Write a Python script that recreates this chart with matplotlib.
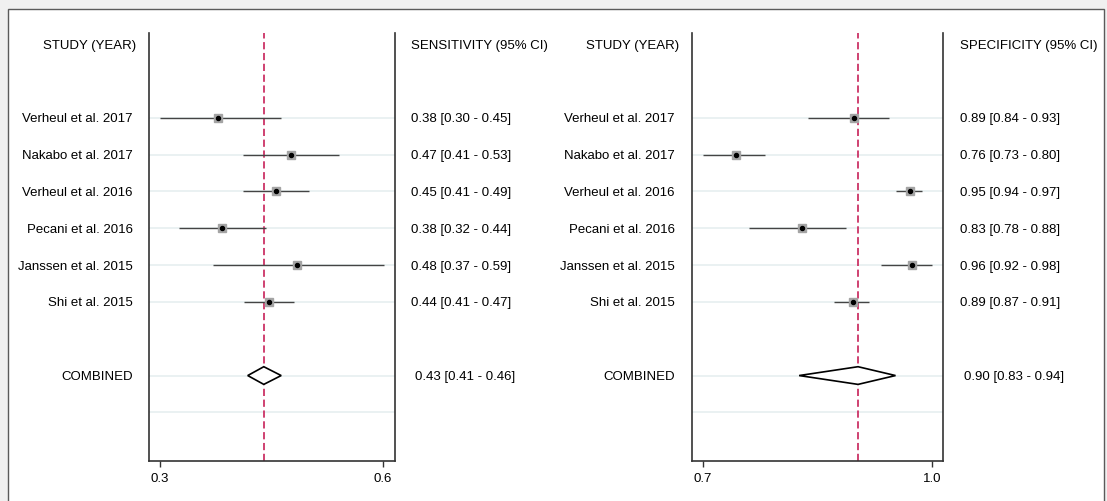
import matplotlib
matplotlib.use("Agg")
import matplotlib.pyplot as plt
from matplotlib.patches import Rectangle
from matplotlib.transforms import blended_transform_factory

plt.rcParams['font.family'] = ['Liberation Sans', 'DejaVu Sans']

studies = ["Verheul et al. 2017", "Nakabo et al. 2017", "Verheul et al. 2016",
           "Pecani et al. 2016", "Janssen et al. 2015", "Shi et al. 2015"]

sens_est = [0.378, 0.476, 0.456, 0.383, 0.484, 0.446]
sens_lo = [0.300, 0.412, 0.412, 0.325, 0.371, 0.413]
sens_hi = [0.463, 0.541, 0.500, 0.442, 0.601, 0.480]
sens_text = ["0.38 [0.30 - 0.45]", "0.47 [0.41 - 0.53]", "0.45 [0.41 - 0.49]",
             "0.38 [0.32 - 0.44]", "0.48 [0.37 - 0.59]", "0.44 [0.41 - 0.47]"]
sens_pool = [0.4396, 0.418, 0.463]
sens_pool_text = "0.43 [0.41 - 0.46]"

spec_est = [0.8975, 0.743, 0.971, 0.8296, 0.9734, 0.896]
spec_lo = [0.838, 0.700, 0.952, 0.760, 0.933, 0.872]
spec_hi = [0.943, 0.782, 0.987, 0.887, 1.000, 0.917]
spec_text = ["0.89 [0.84 - 0.93]", "0.76 [0.73 - 0.80]", "0.95 [0.94 - 0.97]",
             "0.83 [0.78 - 0.88]", "0.96 [0.92 - 0.98]", "0.89 [0.87 - 0.91]"]
spec_pool = [0.903, 0.826, 0.952]
spec_pool_text = "0.90 [0.83 - 0.94]"

W, H = 1107, 501
fig = plt.figure(figsize=(W / 100, H / 100), dpi=100, facecolor='#f0f0f0')

# white panel with border
fig.patches.append(Rectangle((8 / W, -0.05), (1104 - 8) / W, 1.05 - 9 / H,
                             transform=fig.transFigure, facecolor='white',
                             edgecolor='#5a5a5a', linewidth=1.0, zorder=-10))

FS = 9.5
rows = list(range(len(studies)))
pool_row = 7
extra_row = 8
header_row = -2


def panel(x0, x1, xlim, ticks, ticklabels, est, lo, hi, txt, pool, pool_txt,
          header, lab_x, head_x, val_x, pool_val_x):
    ax = fig.add_axes([x0 / W, (H - 461) / H, (x1 - x0) / W, (461 - 33) / H])
    ax.set_facecolor('none')
    ax.set_xlim(*xlim)
    ax.set_ylim(9.32, -2.3)
    for s in ['left', 'right', 'bottom']:
        ax.spines[s].set_color('#333333')
        ax.spines[s].set_linewidth(1.2)
    ax.spines['top'].set_visible(False)
    ax.set_yticks([])
    ax.set_xticks(ticks)
    ax.set_xticklabels(ticklabels, fontsize=FS)
    ax.tick_params(axis='x', length=4, width=1.0, color='#333333', pad=4.5)

    for r in rows + [pool_row, extra_row]:
        ax.axhline(r, color='#e6eff0', lw=1.2, zorder=1)
    ax.axvline(pool[0], color='#cc3366', lw=1.3, dashes=(4, 2), zorder=2)

    for r, e, l, h in zip(rows, est, lo, hi):
        ax.plot([l, h], [r, r], color='#444444', lw=1.0, zorder=3,
                solid_capstyle='butt')
        ax.plot(e, r, marker='s', ms=6.0, color='#a4a4a4', mec='#a4a4a4',
                zorder=4)
        ax.plot(e, r, marker='o', ms=2.9, color='black', zorder=5)

    dh = 0.24
    ax.fill([pool[1], pool[0], pool[2], pool[0]],
            [pool_row, pool_row - dh, pool_row, pool_row + dh],
            facecolor='white', edgecolor='black', lw=1.2, zorder=4)

    tr = blended_transform_factory(fig.transFigure, ax.transData)
    kw = dict(transform=tr, va='center_baseline', fontsize=FS)
    fig.text(head_x / W, header_row, "STUDY (YEAR)", ha='right', **kw)
    fig.text(val_x / W, header_row, header, ha='left', **kw)
    for r, s, t in zip(rows, studies, txt):
        fig.text(lab_x / W, r, s, ha='right', **kw)
        fig.text(val_x / W, r, t, ha='left', **kw)
    fig.text(lab_x / W, pool_row, "COMBINED", ha='right', **kw)
    fig.text(pool_val_x / W, pool_row, pool_txt, ha='left', **kw)
    return ax


panel(149, 395, (0.2852, 0.6161), [0.3, 0.6], ["0.3", "0.6"],
      sens_est, sens_lo, sens_hi, sens_text, sens_pool, sens_pool_text,
      "SENSITIVITY (95% CI)", 133, 136, 411, 415)
panel(692, 943, (0.6859, 1.0141), [0.7, 1.0], ["0.7", "1.0"],
      spec_est, spec_lo, spec_hi, spec_text, spec_pool, spec_pool_text,
      "SPECIFICITY (95% CI)", 675, 679, 960, 964)

fig.savefig("out.png", dpi=100, facecolor=fig.get_facecolor())
